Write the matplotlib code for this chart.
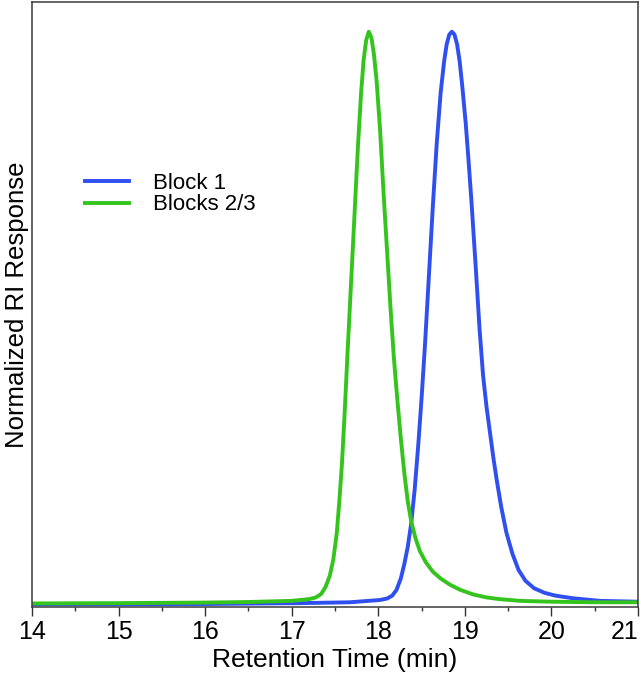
import matplotlib
matplotlib.use('Agg')
import matplotlib.pyplot as plt
from matplotlib.ticker import MultipleLocator

temps_bloc1 = [14.0, 16.0, 17.09, 17.67, 18.02, 18.10, 18.16, 18.21, 18.26, 18.30,
               18.34, 18.38, 18.42, 18.46, 18.50, 18.54, 18.585, 18.63, 18.675, 18.72,
               18.76, 18.79, 18.82, 18.85, 18.88, 18.91, 18.94, 18.97, 19.01, 19.04,
               19.075, 19.125, 19.17, 19.21, 19.25, 19.29, 19.33, 19.37, 19.42, 19.48,
               19.55, 19.62, 19.70, 19.80, 19.92, 20.05, 20.25, 20.56, 21.0]
reponse_bloc1 = [0.0, 0.0005, 0.002, 0.0035, 0.0075, 0.010, 0.015, 0.025, 0.045, 0.070,
                 0.100, 0.141, 0.200, 0.275, 0.360, 0.455, 0.575, 0.695, 0.805, 0.893,
                 0.948, 0.978, 0.995, 1.0, 0.995, 0.978, 0.948, 0.905, 0.840, 0.780,
                 0.706, 0.590, 0.480, 0.400, 0.345, 0.300, 0.255, 0.215, 0.170, 0.125,
                 0.088, 0.060, 0.041, 0.028, 0.020, 0.015, 0.0105, 0.006, 0.0045]

temps_blocs23 = [14.0, 15.0, 16.0, 16.5, 17.0, 17.2, 17.28, 17.34, 17.39, 17.44,
                 17.48, 17.52, 17.55, 17.58, 17.61, 17.645, 17.685, 17.725, 17.765, 17.80,
                 17.83, 17.86, 17.89, 17.92, 17.95, 17.98, 18.02, 18.06, 18.10, 18.14,
                 18.18, 18.22, 18.26, 18.30, 18.34, 18.38, 18.43, 18.48, 18.55, 18.63,
                 18.72, 18.83, 18.95, 19.10, 19.25, 19.40, 19.64, 20.0, 20.5, 21.0]
reponse_blocs23 = [0.0015, 0.002, 0.003, 0.004, 0.006, 0.009, 0.012, 0.018, 0.030, 0.050,
                   0.078, 0.124, 0.180, 0.245, 0.330, 0.440, 0.560, 0.680, 0.800, 0.890,
                   0.950, 0.985, 1.0, 0.990, 0.960, 0.915, 0.830, 0.720, 0.620, 0.520,
                   0.430, 0.357, 0.290, 0.230, 0.180, 0.145, 0.115, 0.093, 0.073, 0.057,
                   0.045, 0.034, 0.025, 0.017, 0.012, 0.009, 0.006, 0.0045, 0.0035, 0.0035]

graduations = [14, 15, 16, 17, 18, 19, 20, 21]
noms_series = ['Block 1', 'Blocks 2/3']
couleurs = ['#2f4ff0', '#35c41e']


def trace_chromatogramme():
    plt.rcParams['font.family'] = ['Liberation Sans', 'DejaVu Sans']

    fig = plt.figure(figsize=(6.44, 6.83), dpi=100)
    ax = fig.add_axes([0.0497, 0.1113, 0.9410, 0.8853])

    ax.plot(temps_bloc1, reponse_bloc1, color=couleurs[0], lw=2.8, label=noms_series[0])
    ax.plot(temps_blocs23, reponse_blocs23, color=couleurs[1], lw=2.8, label=noms_series[1])

    ax.set_xlim(14, 21)
    ax.set_ylim(-0.0047, 1.0513)
    ax.set_xticks(graduations, [str(g) for g in graduations])
    ax.xaxis.set_minor_locator(MultipleLocator(0.5))
    ax.set_yticks([])
    ax.tick_params(axis='x', which='major', direction='out', length=6.5, width=1,
                   labelsize=18, pad=3, color='#333333')
    ax.tick_params(axis='x', which='minor', direction='out', length=3, width=1,
                   color='#333333')
    for cote in ax.spines.values():
        cote.set_color('#3a3a3a')
        cote.set_linewidth(1.1)

    # le dernier label (21) reste dans la figure
    ax.xaxis.get_major_ticks()[-1].label1.set_horizontalalignment('right')

    ax.set_xlabel('Retention Time (min)', fontsize=19, labelpad=3)
    ax.set_ylabel('Normalized RI Response', fontsize=18.5, labelpad=2)

    ax.legend(loc='center left', bbox_to_anchor=(0.0875, 0.683), frameon=False,
              fontsize=16, handlelength=2.0, handletextpad=1.05,
              labelspacing=0.03, borderpad=0, borderaxespad=0)

    fig.savefig('out.png', dpi=100)
    plt.close(fig)


if __name__ == "__main__":
    trace_chromatogramme()
